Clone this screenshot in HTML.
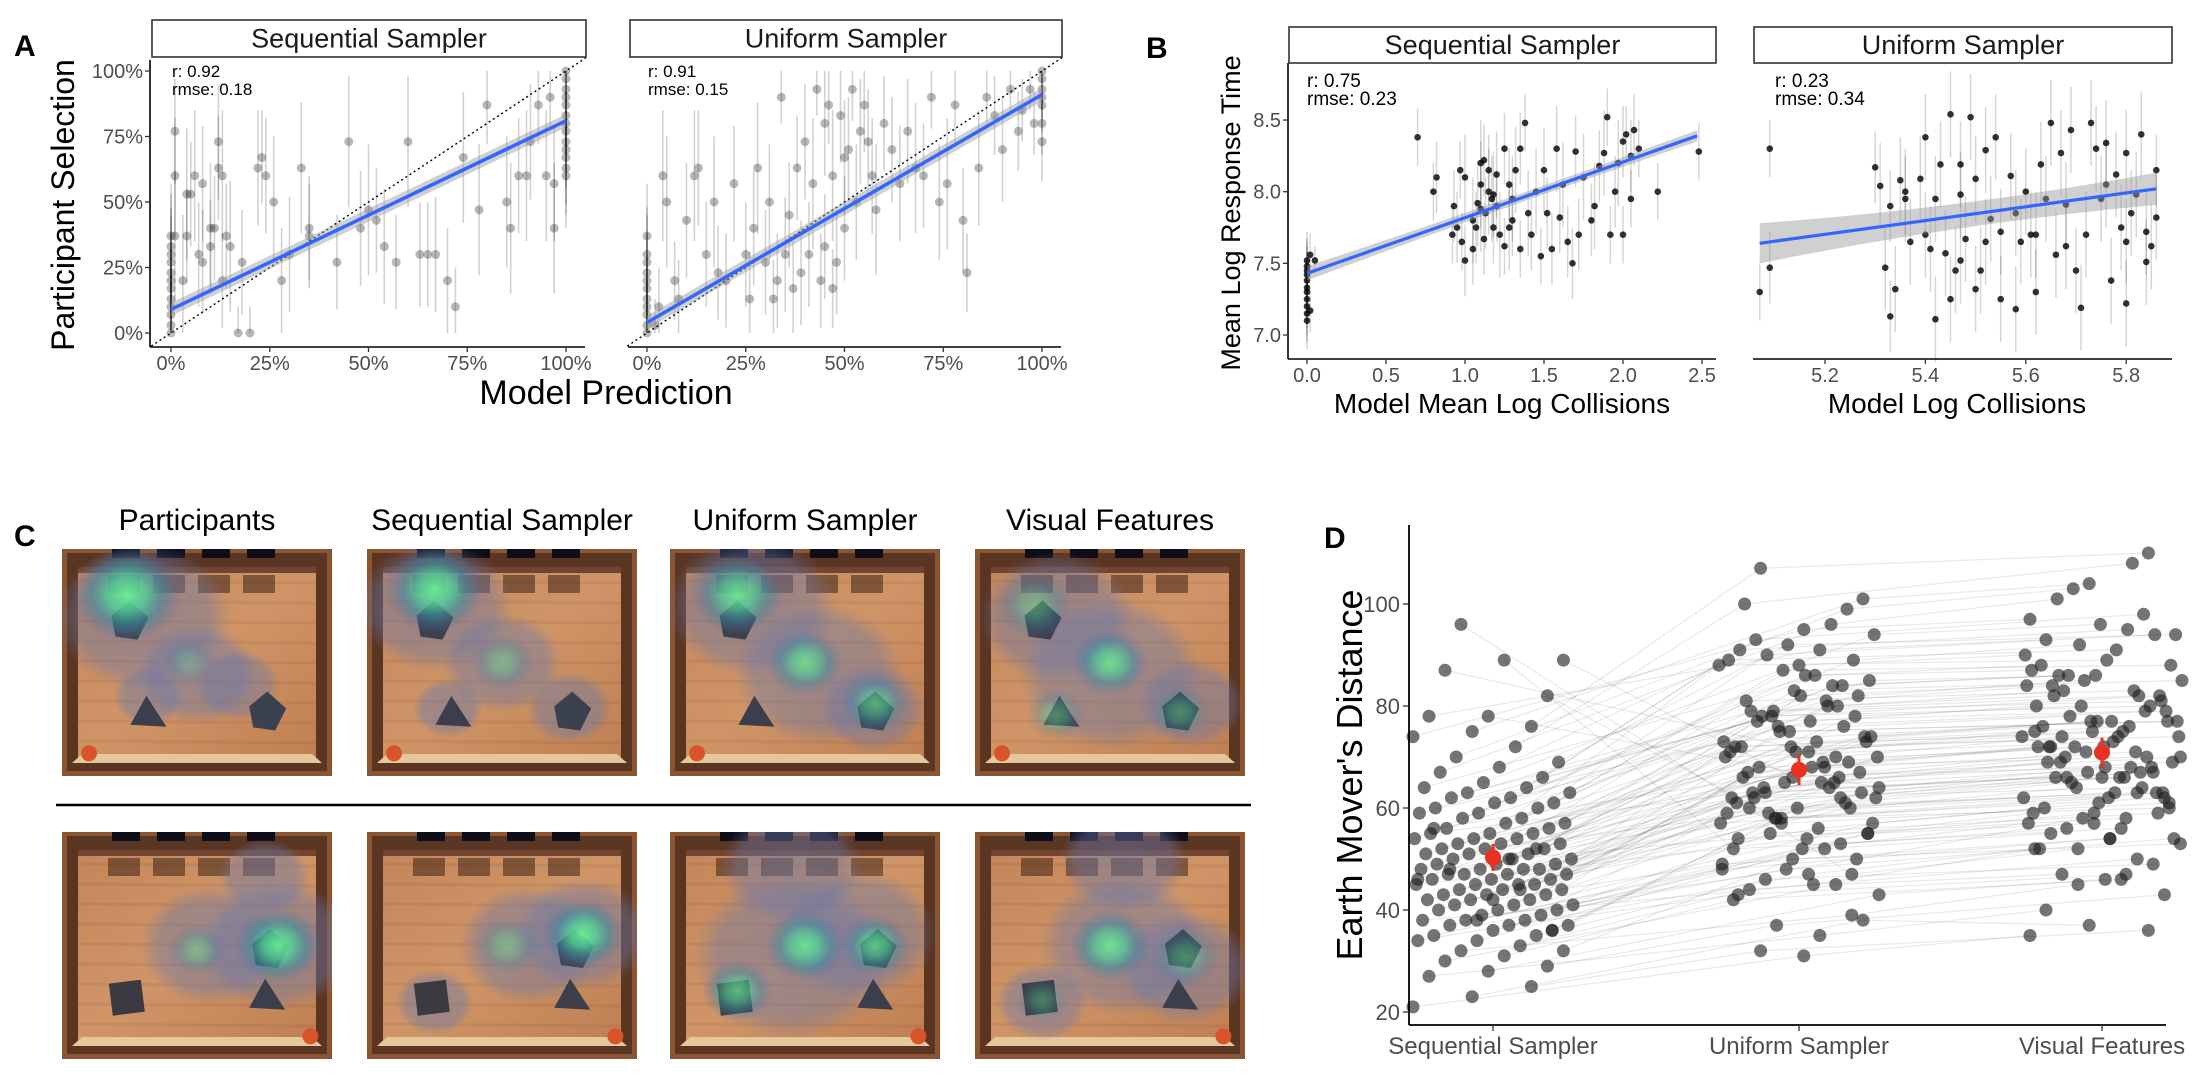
<!DOCTYPE html>
<html><head><meta charset="utf-8">
<style>
body{margin:0;background:#fff;}
svg{display:block;font-family:"Liberation Sans",sans-serif;}
</style></head>
<body>
<svg id="fig" width="2200" height="1080" viewBox="0 0 2200 1080" xmlns="http://www.w3.org/2000/svg">
<defs>
<linearGradient id="wood" x1="0" y1="0" x2="1" y2="1"><stop offset="0" stop-color="#c4865a"/><stop offset="0.5" stop-color="#cf9567"/><stop offset="1" stop-color="#bf7f52"/></linearGradient>
<radialGradient id="glowG"><stop offset="0" stop-color="#6ef08f" stop-opacity="0.95"/><stop offset="0.35" stop-color="#4fd39a" stop-opacity="0.8"/><stop offset="0.65" stop-color="#3a8fa0" stop-opacity="0.55"/><stop offset="1" stop-color="#5a6aa0" stop-opacity="0"/></radialGradient>
<radialGradient id="glowB"><stop offset="0" stop-color="#6a78a8" stop-opacity="0.5"/><stop offset="0.75" stop-color="#6a78a8" stop-opacity="0.42"/><stop offset="1" stop-color="#6a78a8" stop-opacity="0"/></radialGradient>
</defs>
<g id="panelA"></g>
<g id="panelB"></g>
<g id="panelC"></g>
<g id="panelD"></g>
</svg>
<script>
// ---------- Panel A data: [model %, participant %, error half %] ----------
const aSeqPoints = [[0,0,8],[0,3,8],[0,7,10],[0,10,12],[0,13,12],[0,17,15],[0,20,15],[0,23,15],[0,27,18],[0,30,18],[0,33,20],[0,37,20],[1,77,20],[1,60,22],[1,37,25],[4,53,25],[5,53,20],[3,20,25],[4,37,18],[6,60,25],[7,30,20],[8,57,22],[8,27,20],[10,40,25],[11,40,20],[10,33,18],[12,73,22],[12,63,20],[13,60,25],[13,20,18],[14,37,20],[15,33,25],[17,0,10],[20,0,10],[18,27,20],[22,63,22],[23,67,18],[24,60,22],[26,50,25],[28,20,20],[30,30,22],[33,63,25],[35,37,20],[35,40,20],[42,27,18],[45,73,25],[48,40,22],[50,47,25],[52,43,20],[54,33,22],[57,27,18],[60,73,25],[63,30,20],[65,30,20],[67,30,22],[70,20,20],[72,10,15],[74,67,25],[78,47,25],[80,87,15],[85,50,25],[86,40,25],[88,60,22],[90,60,25],[91,73,22],[93,87,15],[95,60,25],[96,90,12],[97,57,22],[97,40,25],[100,60,20],[100,63,18],[100,67,18],[100,70,15],[100,73,15],[100,77,15],[100,80,12],[100,83,12],[100,87,10],[100,90,10],[100,93,8],[100,97,6],[100,100,5]];
const aUniPoints = [[0,0,8],[0,3,8],[0,7,10],[0,10,10],[0,13,12],[0,17,12],[0,20,15],[0,23,15],[0,27,18],[0,30,18],[0,37,20],[2,3,10],[3,10,15],[4,60,25],[5,50,25],[7,20,15],[8,13,15],[10,43,22],[12,60,25],[13,63,22],[15,30,20],[17,50,25],[18,23,18],[20,20,18],[22,57,22],[25,30,20],[26,13,18],[27,40,22],[28,63,25],[30,27,20],[31,50,22],[32,13,15],[33,20,18],[34,90,10],[35,30,22],[36,45,20],[37,17,18],[38,63,20],[39,23,20],[40,73,22],[41,30,20],[42,57,25],[43,93,10],[44,20,18],[45,80,20],[45,33,20],[46,87,15],[47,60,25],[47,17,15],[48,27,20],[49,83,18],[50,67,22],[50,40,20],[51,70,20],[52,93,12],[53,50,22],[54,77,20],[55,87,18],[56,73,20],[57,60,22],[58,47,25],[60,80,18],[62,70,20],[64,57,22],[66,77,20],[68,63,25],[70,60,20],[72,90,12],[74,50,22],[76,57,25],[78,87,15],[80,43,20],[81,23,15],[84,63,22],[86,90,12],[88,83,15],[90,70,20],[92,93,10],[94,77,15],[95,85,12],[97,93,8],[98,80,12],[100,73,15],[100,80,12],[100,87,10],[100,90,8],[100,93,8],[100,97,5],[100,100,4]];
const aPctTicks = [0,25,50,75,100];
const aPctLabels = ["0%","25%","50%","75%","100%"];
const aSeqFit = [9,81];
const aUniFit = [4,91];
const aSeqStats = ["r: 0.92","rmse: 0.18"];
const aUniStats = ["r: 0.91","rmse: 0.15"];

// ---------- Panel B data: [model, mean log RT, error half] ----------
const bSeqPoints = [[0,7.1,0.2],[0,7.15,0.2],[0,7.2,0.2],[0,7.25,0.2],[0,7.3,0.2],[0,7.33,0.2],[0,7.38,0.2],[0,7.42,0.2],[0,7.45,0.2],[0,7.48,0.2],[0,7.52,0.2],[0.02,7.56,0.15],[0.02,7.17,0.15],[0.05,7.52,0.1],[0.7,8.38,0.2],[0.8,8.0,0.2],[0.82,8.1,0.25],[0.92,7.7,0.2],[0.95,7.75,0.25],[0.93,7.9,0.25],[0.97,8.15,0.2],[0.98,7.65,0.2],[1.0,7.52,0.25],[1.0,8.1,0.3],[1.05,7.8,0.3],[1.07,7.75,0.25],[1.08,7.92,0.3],[1.1,8.05,0.3],[1.1,8.2,0.3],[1.12,7.67,0.25],[1.13,7.85,0.25],[1.15,8.0,0.3],[1.15,8.15,0.25],[1.17,7.95,0.3],[1.18,7.75,0.25],[1.2,8.12,0.3],[1.2,7.9,0.25],[1.22,7.7,0.3],[1.25,8.3,0.25],[1.25,7.62,0.2],[1.28,8.05,0.25],[1.3,7.95,0.3],[1.3,7.8,0.25],[1.32,8.15,0.3],[1.35,7.6,0.2],[1.35,8.3,0.25],[1.38,8.48,0.2],[1.4,7.85,0.3],[1.42,7.7,0.25],[1.45,8.0,0.3],[1.48,7.55,0.2],[1.5,8.15,0.3],[1.52,7.85,0.25],[1.55,7.6,0.25],[1.58,8.3,0.3],[1.6,7.82,0.25],[1.62,8.05,0.3],[1.65,7.65,0.25],[1.68,7.5,0.25],[1.7,8.28,0.25],[1.72,7.7,0.25],[1.75,8.1,0.3],[1.8,7.8,0.25],[1.82,7.9,0.3],[1.85,8.18,0.25],[1.88,8.27,0.3],[1.9,8.52,0.2],[1.92,7.7,0.2],[1.95,8.0,0.25],[1.97,8.2,0.3],[2.0,8.35,0.25],[2.02,8.4,0.2],[2.05,8.25,0.25],[2.05,7.95,0.2],[2.07,8.43,0.25],[2.0,7.7,0.2],[2.1,8.3,0.2],[2.22,8.0,0.2],[2.48,8.28,0.2],[1.1,7.88,0.3],[1.12,8.22,0.25],[1.18,7.98,0.3],[1.05,7.6,0.25],[1.28,7.75,0.3]];
const bUniPoints = [[5.07,7.3,0.2],[5.09,8.3,0.2],[5.09,7.47,0.25],[5.3,8.17,0.25],[5.31,8.04,0.3],[5.32,7.47,0.3],[5.33,7.13,0.25],[5.33,7.9,0.25],[5.34,7.32,0.3],[5.35,8.08,0.3],[5.36,8.0,0.3],[5.37,7.65,0.3],[5.39,8.09,0.3],[5.4,8.38,0.3],[5.4,7.7,0.3],[5.41,7.6,0.3],[5.42,7.11,0.3],[5.43,8.19,0.3],[5.44,7.57,0.3],[5.45,8.54,0.3],[5.45,7.25,0.3],[5.46,7.45,0.3],[5.47,7.52,0.3],[5.47,8.19,0.3],[5.48,7.67,0.3],[5.49,8.52,0.3],[5.5,7.32,0.3],[5.5,8.09,0.3],[5.51,7.45,0.3],[5.52,8.29,0.3],[5.53,7.81,0.3],[5.54,8.38,0.3],[5.55,7.25,0.3],[5.55,7.72,0.3],[5.57,8.11,0.3],[5.58,7.18,0.3],[5.59,7.65,0.3],[5.6,8.0,0.3],[5.62,7.7,0.3],[5.62,7.3,0.3],[5.63,8.19,0.3],[5.64,7.95,0.3],[5.65,8.48,0.3],[5.66,7.56,0.3],[5.67,8.27,0.3],[5.68,7.91,0.3],[5.69,8.43,0.3],[5.7,7.45,0.3],[5.71,7.19,0.3],[5.72,7.7,0.3],[5.73,8.48,0.3],[5.74,8.3,0.3],[5.75,7.95,0.3],[5.76,8.34,0.3],[5.77,7.38,0.3],[5.78,8.12,0.3],[5.79,7.75,0.3],[5.8,8.27,0.3],[5.8,7.65,0.3],[5.81,7.85,0.3],[5.82,7.98,0.3],[5.83,8.4,0.3],[5.84,7.72,0.3],[5.85,7.62,0.3],[5.86,8.15,0.25],[5.8,7.22,0.3],[5.84,7.51,0.3],[5.86,7.82,0.3],[5.58,7.85,0.3],[5.52,7.65,0.3],[5.47,7.98,0.3],[5.61,7.7,0.3],[5.68,7.62,0.3],[5.76,8.05,0.3],[5.42,7.95,0.3],[5.36,7.95,0.3]];
const bSeqXTicks = [0,0.5,1,1.5,2,2.5];
const bSeqXLabels = ["0.0","0.5","1.0","1.5","2.0","2.5"];
const bUniXTicks = [5.2,5.4,5.6,5.8];
const bUniXLabels = ["5.2","5.4","5.6","5.8"];
const bYTicks = [7,7.5,8,8.5];
const bYLabels = ["7.0","7.5","8.0","8.5"];
const bSeqFit = [[0,7.43],[2.47,8.39]];
const bUniFit = [[5.07,7.64],[5.86,8.02]];
const bSeqStats = ["r:  0.75","rmse:  0.23"];
const bUniStats = ["r: 0.23","rmse: 0.34"];

// ---------- Panel D data ----------
const dCategories = ["Sequential Sampler","Uniform Sampler","Visual Features"];
const dSequential = [21,23,25,27,28,29,30,31,32,32,33,34,34,35,35,36,36,37,37,37,38,38,38,39,39,40,40,40,41,41,41,42,42,42,43,43,43,44,44,44,45,45,45,45,46,46,46,47,47,47,47,48,48,48,48,49,49,49,50,50,50,51,51,51,52,52,52,53,53,53,54,54,54,55,55,55,56,56,57,57,58,58,59,59,60,60,61,61,62,62,63,63,64,64,65,66,67,68,69,70,72,74,75,76,78,78,82,87,89,89,96,44,46,38,52,56,42,36,48,50];
const dUniform = [31,38,32,35,43,37,45,42,50,39,44,47,55,46,52,48,58,53,43,60,50,62,45,57,55,64,59,48,61,66,52,63,68,56,70,58,65,62,72,60,67,54,73,64,69,57,75,66,61,71,78,63,68,74,59,80,70,65,76,72,82,67,77,73,62,79,84,71,75,69,81,86,74,78,65,88,76,80,72,83,89,79,77,85,90,81,73,87,84,91,88,82,93,86,94,78,96,89,92,99,100,95,101,107,91,64,58,70,52,66,47,60,71,55,63,68,49,57,62,54];
const dVisual = [35,37,36,40,46,43,47,46,53,45,50,52,57,49,55,54,60,56,47,62,58,64,52,61,59,66,63,54,65,68,57,67,70,60,72,63,69,66,74,64,71,59,75,68,72,62,77,70,66,74,80,67,72,77,63,82,73,69,78,76,84,71,79,76,66,81,86,74,77,72,83,87,77,80,69,89,79,83,75,85,92,82,80,86,94,84,77,88,86,95,90,85,98,88,96,82,101,91,94,103,108,97,104,110,93,68,62,74,56,70,52,63,75,59,67,72,54,61,66,58];
const dYTicks = [20,40,60,80,100];

// ---------- Panel C titles ----------
const cTitles = ["Participants","Sequential Sampler","Uniform Sampler","Visual Features"];

const NS = "http://www.w3.org/2000/svg";
function mk(tag, attrs, parent, txt){
  const e = document.createElementNS(NS, tag);
  for (const k in attrs) e.setAttribute(k, attrs[k]);
  if (txt !== undefined) e.textContent = txt;
  parent.appendChild(e);
  return e;
}
const A = document.getElementById('panelA');
const B = document.getElementById('panelB');
const C = document.getElementById('panelC');
const D = document.getElementById('panelD');

function strip(g, x0, x1, y0, y1, label, name){
  const r = mk('rect',{x:x0,y:y0,width:x1-x0,height:y1-y0,fill:'#fff',stroke:'#333','stroke-width':1.6},g);
  
  
  const t = mk('text',{x:(x0+x1)/2,y:(y0+y1)/2+9,'text-anchor':'middle','font-size':27,fill:'#1a1a1a'},g,label);
  
  
}

// ================= Panel A =================
(function(){
  const lbl = mk('text',{x:14,y:56,'font-size':30,'font-weight':'bold',fill:'#000'},A,'A');
  
  
  const yOf = p => 333 - p*2.62;
  const facets = [
    {x0:171, ax0:150, ax1:585, pts:aSeqPoints, fit:aSeqFit, stats:aSeqStats, title:'Sequential Sampler', name:'a-sequential', yaxis:true},
    {x0:647, ax0:628, ax1:1061, pts:aUniPoints, fit:aUniFit, stats:aUniStats, title:'Uniform Sampler', name:'a-uniform', yaxis:false}
  ];
  facets.forEach(f=>{
    const xOf = p => f.x0 + p*3.95;
    const g = mk('g',{},A);
    
    
    strip(g, f.ax0+2, f.ax1+1, 20, 57, f.title, f.name);
    const dl = mk('line',{x1:xOf(-5),y1:yOf(-5),x2:xOf(105),y2:yOf(105),stroke:'#000','stroke-width':1.4,'stroke-dasharray':'2 3'},g);
    
    
    f.pts.forEach(p=>{
      const eb = mk('line',{x1:xOf(p[0]),x2:xOf(p[0]),y1:yOf(Math.min(100,p[1]+p[2])),y2:yOf(Math.max(0,p[1]-p[2])),stroke:'rgba(0,0,0,0.18)','stroke-width':1.6},g);
      
      
    });
    f.pts.forEach(p=>{
      const c = mk('circle',{cx:xOf(p[0]),cy:yOf(p[1]),r:4.5,fill:'rgba(0,0,0,0.28)'},g);
      
      
    });
    const rb = mk('polygon',{points:`${xOf(0)},${yOf(f.fit[0]+2.5)} ${xOf(100)},${yOf(f.fit[1]+2.5)} ${xOf(100)},${yOf(f.fit[1]-2.5)} ${xOf(0)},${yOf(f.fit[0]-2.5)}`,fill:'rgba(150,150,150,0.45)'},g);
    
    
    const fl = mk('line',{x1:xOf(0),y1:yOf(f.fit[0]),x2:xOf(100),y2:yOf(f.fit[1]),stroke:'#3366ff','stroke-width':3.5},g);
    
    
    f.stats.forEach((s,i)=>{
      const t = mk('text',{x:xOf(0)+1,y:77+i*18,'font-size':17,fill:'#000'},g,s);
      
      
    });
    const xa = mk('line',{x1:f.ax0,x2:f.ax1,y1:347,y2:347,stroke:'#000','stroke-width':1.6},g);
    
    
    aPctTicks.forEach((v,i)=>{
      mk('line',{x1:xOf(v),x2:xOf(v),y1:347,y2:352,stroke:'#333','stroke-width':1.3},g);
      const t = mk('text',{x:xOf(v),y:370,'text-anchor':'middle','font-size':20,fill:'#4d4d4d'},g,aPctLabels[i]);
      
      
    });
    if (f.yaxis){
      const ya = mk('line',{x1:150,x2:150,y1:60,y2:347,stroke:'#000','stroke-width':1.6},g);
      
      
      aPctTicks.forEach((v,i)=>{
        mk('line',{x1:145,x2:150,y1:yOf(v),y2:yOf(v),stroke:'#333','stroke-width':1.3},g);
        const t = mk('text',{x:143,y:yOf(v)+7,'text-anchor':'end','font-size':20,fill:'#4d4d4d'},g,aPctLabels[i]);
        
        
      });
    }
  });
  const yt = mk('text',{x:0,y:0,transform:'translate(74,205) rotate(-90)','text-anchor':'middle','font-size':32,fill:'#000'},A,'Participant Selection');
  
  
  const xt = mk('text',{x:606,y:404,'text-anchor':'middle','font-size':34,fill:'#000'},A,'Model Prediction');
  
  
})();

// ================= Panel B =================
(function(){
  const lbl = mk('text',{x:1146,y:58,'font-size':30,'font-weight':'bold',fill:'#000'},B,'B');
  
  
  const yOf = v => 335 - (v-7)*143.3;
  const facets = [
    {xOf:v=>1307+v*158, ax0:1288, ax1:1716, pts:bSeqPoints, fit:bSeqFit, stats:bSeqStats, band:0.05, title:'Sequential Sampler', name:'b-sequential', ticks:bSeqXTicks, labels:bSeqXLabels, yaxis:true, xt:'Model Mean Log Collisions', xtc:1502},
    {xOf:v=>1825+(v-5.2)*502, ax0:1753, ax1:2172, pts:bUniPoints, fit:bUniFit, stats:bUniStats, band:0.14, title:'Uniform Sampler', name:'b-uniform', ticks:bUniXTicks, labels:bUniXLabels, yaxis:false, xt:'Model Log Collisions', xtc:1957}
  ];
  facets.forEach(f=>{
    const g = mk('g',{},B);
    
    
    strip(g, f.ax0+1, f.ax1, 27, 63, f.title, f.name);
    f.pts.forEach(p=>{
      const eb = mk('line',{x1:f.xOf(p[0]),x2:f.xOf(p[0]),y1:yOf(p[1]+p[2]),y2:yOf(p[1]-p[2]),stroke:'rgba(0,0,0,0.16)','stroke-width':1.5},g);
      
      
    });
    f.pts.forEach(p=>{
      const c = mk('circle',{cx:f.xOf(p[0]),cy:yOf(p[1]),r:3.3,fill:'rgba(0,0,0,0.8)'},g);
      
      
    });
    const [a,b] = f.fit;
    const mid = (a[0]+b[0])/2;
    const rb = mk('path',{d:`M${f.xOf(a[0])},${yOf(a[1]+f.band)} Q${f.xOf(mid)},${yOf((a[1]+b[1])/2+f.band*0.35)} ${f.xOf(b[0])},${yOf(b[1]+f.band*0.8)} L${f.xOf(b[0])},${yOf(b[1]-f.band*0.8)} Q${f.xOf(mid)},${yOf((a[1]+b[1])/2-f.band*0.35)} ${f.xOf(a[0])},${yOf(a[1]-f.band)} Z`,fill:'rgba(150,150,150,0.45)'},g);
    
    
    const fl = mk('line',{x1:f.xOf(a[0]),y1:yOf(a[1]),x2:f.xOf(b[0]),y2:yOf(b[1]),stroke:'#3366ff','stroke-width':3.2},g);
    
    
    f.stats.forEach((s,i)=>{
      const t = mk('text',{x:f.ax0+(f.yaxis?19:22),y:87+i*18,'font-size':19,fill:'#000'},g,s);
      
      
    });
    const xa = mk('line',{x1:f.ax0,x2:f.ax1,y1:359,y2:359,stroke:'#000','stroke-width':1.6},g);
    
    
    f.ticks.forEach((v,i)=>{
      mk('line',{x1:f.xOf(v),x2:f.xOf(v),y1:359,y2:364,stroke:'#333','stroke-width':1.3},g);
      const t = mk('text',{x:f.xOf(v),y:382,'text-anchor':'middle','font-size':20,fill:'#4d4d4d'},g,f.labels[i]);
      
      
    });
    const xt = mk('text',{x:f.xtc,y:413,'text-anchor':'middle','font-size':28,fill:'#000'},g,f.xt);
    
    
    if (f.yaxis){
      const ya = mk('line',{x1:1288,x2:1288,y1:63,y2:359,stroke:'#000','stroke-width':1.6},g);
      
      
      bYTicks.forEach((v,i)=>{
        mk('line',{x1:1283,x2:1288,y1:yOf(v),y2:yOf(v),stroke:'#333','stroke-width':1.3},g);
        const t = mk('text',{x:1281,y:yOf(v)+7,'text-anchor':'end','font-size':20,fill:'#4d4d4d'},g,bYLabels[i]);
        
        
      });
    }
  });
  const yt = mk('text',{x:0,y:0,transform:'translate(1240,213) rotate(-90)','text-anchor':'middle','font-size':27,fill:'#000'},B,'Mean Log Response Time');
  
  
})();

// ================= Panel C =================
(function(){
  const lbl = mk('text',{x:14,y:546,'font-size':30,'font-weight':'bold',fill:'#000'},C,'C');
  
  
  const colX = [62,367,670,975];
  const rowY = [549,832];
  const W = 270, H = 227;
  cTitles.forEach((t,i)=>{
    const e = mk('text',{x:colX[i]+W/2,y:530,'text-anchor':'middle','font-size':30,fill:'#000'},C,t);
    
    
  });
  const sep = mk('line',{x1:56,x2:1251,y1:805,y2:805,stroke:'#000','stroke-width':2.5},C);
  
  
  const rowShapes = [
    [['oct',0.25,0.32],['pyr',0.32,0.73],['oct',0.76,0.72],['ball',0.1,0.9]],
    [['oct',0.77,0.52],['cube',0.24,0.73],['pyr',0.76,0.73],['ball',0.92,0.9]]
  ];
  const blobs = [
    [[[0.24,0.2,0.2,1],[0.47,0.5,0.1,0.3]],
     [[0.25,0.18,0.18,1],[0.5,0.5,0.12,0.45]],
     [[0.25,0.2,0.17,0.9],[0.5,0.5,0.14,0.8],[0.76,0.68,0.13,0.65]],
     [[0.22,0.25,0.14,0.45],[0.5,0.5,0.14,0.85],[0.3,0.73,0.11,0.45],[0.76,0.72,0.11,0.45]]],
    [[[0.8,0.5,0.16,1],[0.5,0.52,0.11,0.45]],
     [[0.8,0.45,0.15,1],[0.52,0.5,0.12,0.45]],
     [[0.5,0.5,0.15,0.9],[0.76,0.5,0.13,0.8],[0.25,0.7,0.13,0.75]],
     [[0.5,0.5,0.15,0.9],[0.78,0.55,0.13,0.45],[0.25,0.74,0.1,0.4]]]
  ];
  const haze = [
    [[[0.3,0.3,0.25],[0.5,0.55,0.17],[0.32,0.65,0.1],[0.65,0.6,0.12]],
     [[0.25,0.25,0.22],[0.5,0.5,0.17],[0.3,0.7,0.1],[0.75,0.7,0.12]],
     [[0.3,0.25,0.24],[0.55,0.55,0.24],[0.75,0.7,0.15]],
     [[0.3,0.3,0.22],[0.5,0.55,0.26],[0.8,0.68,0.15]]],
    [[[0.55,0.5,0.2],[0.8,0.5,0.22],[0.75,0.2,0.13]],
     [[0.6,0.5,0.2],[0.8,0.45,0.19],[0.25,0.75,0.11]],
     [[0.45,0.55,0.28],[0.7,0.45,0.22],[0.45,0.15,0.2]],
     [[0.55,0.5,0.24],[0.78,0.6,0.19],[0.25,0.75,0.13],[0.55,0.12,0.18]]]
  ];
  rowY.forEach((y0,r)=>{
    colX.forEach((x0,c)=>{
      const g = mk('g',{},C);
      
      
      const clipId = 'clip'+r+c;
      const cp = mk('clipPath',{id:clipId},g);
      mk('rect',{x:x0,y:y0,width:W,height:H},cp);
      const ig = mk('g',{'clip-path':`url(#${clipId})`},g);
      mk('rect',{x:x0,y:y0,width:W,height:H,fill:'#8a5533'},ig);
      mk('rect',{x:x0+5,y:y0+4,width:W-10,height:H-9,fill:'#5a3522'},ig);
      mk('rect',{x:x0+16,y:y0+18,width:W-32,height:H-34,fill:'url(#wood)'},ig);
      for (let k=0;k<9;k++) mk('line',{x1:x0+16,x2:x0+W-16,y1:y0+32+k*20,y2:y0+34+k*20,stroke:'rgba(120,60,30,0.1)','stroke-width':3},ig);
      for (let k=0;k<4;k++){
        mk('rect',{x:x0+50+k*45,y:y0,width:28,height:9,fill:'#0e0e1a'},ig);
        mk('rect',{x:x0+46+k*45,y:y0+26,width:32,height:18,fill:'rgba(50,25,15,0.5)'},ig);
      }
      mk('rect',{x:x0+16,y:y0+18,width:W-32,height:6,fill:'#704430'},ig);
      mk('polygon',{points:`${x0+10},${y0+H-13} ${x0+20},${y0+H-22} ${x0+W-20},${y0+H-22} ${x0+W-10},${y0+H-13}`,fill:'#e6c79b'},ig);
      haze[r][c].forEach(h=>{
        mk('ellipse',{cx:x0+h[0]*W,cy:y0+h[1]*H,rx:h[2]*W*1.3,ry:h[2]*H*1.3,fill:'url(#glowB)'},ig);
      });
      rowShapes[r].forEach(s=>{
        const sx = x0+s[1]*W, sy = y0+s[2]*H;
        if (s[0]==='ball') mk('circle',{cx:sx,cy:sy,r:8,fill:'#d9542a'},ig);
        else if (s[0]==='pyr') mk('polygon',{points:`${sx-2},${sy-19} ${sx+18},${sy+12} ${sx-18},${sy+10}`,fill:'#3d3e4c'},ig);
        else if (s[0]==='cube') mk('polygon',{points:`${sx-18},${sy-14} ${sx+14},${sy-18} ${sx+18},${sy+14} ${sx-14},${sy+18}`,fill:'#3a3a40'},ig);
        else mk('polygon',{points:`${sx},${sy-21} ${sx+19},${sy-4} ${sx+8},${sy+18} ${sx-14},${sy+15} ${sx-18},${sy-6}`,fill:'#3c4150'},ig);
      });
      blobs[r][c].forEach(b=>{
        mk('ellipse',{cx:x0+b[0]*W,cy:y0+b[1]*H,rx:b[2]*W,ry:b[2]*H*1.05,fill:'url(#glowG)',opacity:b[3]},ig);
      });
    });
  });
})();

// ================= Panel D =================
(function(){
  const lbl = mk('text',{x:1324,y:548,'font-size':30,'font-weight':'bold',fill:'#000'},D,'D');
  
  
  const catX = [1493,1799,2102];
  const yOf = v => 1012 - (v-20)*5.1;
  const series = [dSequential, dUniform, dVisual];
  const jit = (i,s) => (((i*37 + s*53) % 101)/100 - 0.5) * 160;
  const lg = mk('g',{},D);
  
  
  for (let i=0;i<dSequential.length;i++){
    const pts = series.map((arr,s)=>`${catX[s]+jit(i,s)},${yOf(arr[i])}`).join(' ');
    const pl = mk('polyline',{points:pts,fill:'none',stroke:'rgba(0,0,0,0.09)','stroke-width':1.2},lg);
    
    
  }
  series.forEach((arr,s)=>{
    const g = mk('g',{},D);
    
    
    arr.forEach((v,i)=>{
      const c = mk('circle',{cx:catX[s]+jit(i,s),cy:yOf(v),r:6.5,fill:'rgba(30,30,30,0.62)'},g);
      
      
    });
    const m = arr.reduce((a,b)=>a+b,0)/arr.length;
    const sd = Math.sqrt(arr.reduce((a,b)=>a+(b-m)*(b-m),0)/(arr.length-1));
    const se = sd/Math.sqrt(arr.length);
    const eb = mk('line',{x1:catX[s],x2:catX[s],y1:yOf(m+2*se),y2:yOf(m-2*se),stroke:'#e8321f','stroke-width':3},D);
    
    
    const mc = mk('circle',{cx:catX[s],cy:yOf(m),r:8,fill:'#e8321f'},D);
    
    
  });
  const ya = mk('line',{x1:1409,x2:1409,y1:525,y2:1025,stroke:'#000','stroke-width':1.8},D);
  
  
  const xa = mk('line',{x1:1409,x2:2166,y1:1025,y2:1025,stroke:'#000','stroke-width':1.8},D);
  
  
  dYTicks.forEach(v=>{
    mk('line',{x1:1403,x2:1409,y1:yOf(v),y2:yOf(v),stroke:'#333','stroke-width':1.3},D);
    const t = mk('text',{x:1400,y:yOf(v)+8,'text-anchor':'end','font-size':22,fill:'#4d4d4d'},D,String(v));
    
    
  });
  dCategories.forEach((c,i)=>{
    mk('line',{x1:catX[i],x2:catX[i],y1:1025,y2:1031,stroke:'#333','stroke-width':1.3},D);
    const t = mk('text',{x:catX[i],y:1054,'text-anchor':'middle','font-size':24,fill:'#4d4d4d'},D,c);
    
    
  });
  const yt = mk('text',{x:0,y:0,transform:'translate(1362,775) rotate(-90)','text-anchor':'middle','font-size':36,fill:'#000'},D,"Earth Mover's Distance");
  
  
})();
</script>
</body></html>
